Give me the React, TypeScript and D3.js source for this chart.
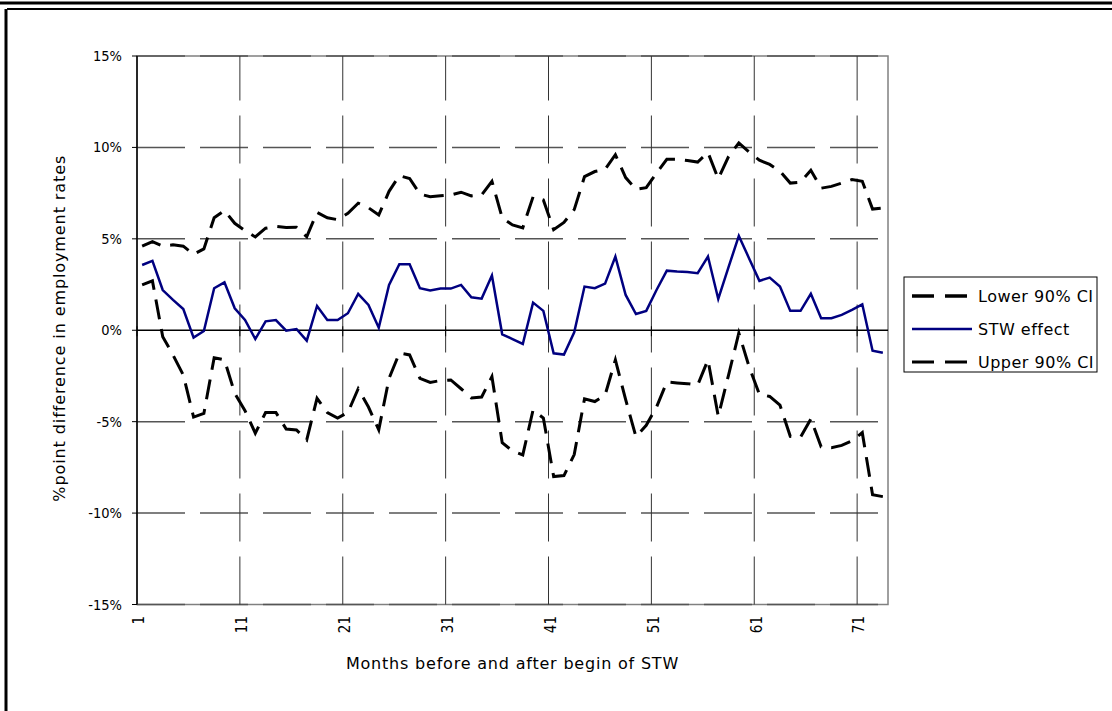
import React from "react";
import * as d3 from "d3";

// months 1..73 (categories)
const months = d3.range(1, 74);

const stwEffect = [
  3.57, 3.79, 2.2, 1.66, 1.16, -0.4, -0.04, 2.3, 2.62, 1.2,
  0.56, -0.48, 0.49, 0.56, -0.02, 0.07, -0.57, 1.33, 0.56, 0.56,
  0.93, 1.99, 1.38, 0.14, 2.48, 3.61, 3.61, 2.3, 2.17, 2.28,
  2.28, 2.48, 1.8, 1.73, 2.99, -0.22, -0.48, -0.75, 1.51, 1.06,
  -1.26, -1.33, -0.11, 2.39, 2.3, 2.55, 4.03, 1.93, 0.89, 1.06,
  2.2, 3.26, 3.21, 3.19, 3.12, 4.03, 1.71, 3.45, 5.16, 3.93,
  2.7, 2.88, 2.39, 1.06, 1.06, 1.99, 0.66, 0.66, 0.84, 1.11,
  1.42, -1.12, -1.23,
];

const lowerCI = [
  2.48, 2.7, -0.35, -1.35, -2.45, -4.75, -4.55, -1.5, -1.62, -3.45,
  -4.4, -5.63, -4.5, -4.5, -5.4, -5.45, -6.0, -3.72, -4.5, -4.8,
  -4.5, -3.2, -4.2, -5.45, -2.63, -1.25, -1.35, -2.63, -2.85, -2.75,
  -2.72, -3.2, -3.7, -3.65, -2.54, -6.15, -6.6, -6.82, -4.36, -4.8,
  -8.0, -7.95, -6.8, -3.75, -3.9, -3.54, -1.62, -3.8, -5.82, -5.2,
  -4.2, -2.83, -2.88, -2.92, -3.0, -1.62, -4.7, -2.45, -0.15, -2.0,
  -3.5, -3.62, -4.1, -5.8, -5.85, -4.85, -6.37, -6.42, -6.3, -6.05,
  -5.6, -9.0, -9.1,
];

const upperCI = [
  4.6, 4.85, 4.6, 4.67, 4.6, 4.15, 4.45, 6.15, 6.55, 5.85,
  5.45, 5.1, 5.58, 5.68, 5.62, 5.63, 5.12, 6.45, 6.15, 6.05,
  6.4, 6.95, 6.7, 6.3, 7.6, 8.45, 8.3, 7.45, 7.3, 7.35,
  7.4, 7.55, 7.35, 7.4, 8.15, 6.15, 5.76, 5.6, 7.3, 7.13,
  5.5, 5.9, 6.6, 8.4, 8.68, 8.8, 9.6, 8.35, 7.71, 7.8,
  8.6, 9.35, 9.35, 9.28, 9.2, 9.72, 8.28, 9.5, 10.25, 9.75,
  9.3, 9.07, 8.7, 8.05, 8.1, 8.75, 7.77, 7.87, 8.05, 8.24,
  8.15, 6.63, 6.68,
];

const yTicks = [-15, -10, -5, 0, 5, 10, 15];
const xTickEvery = 10;

const legendItems = [
  { label: "Lower 90% CI", color: "#000", width: 3.5, dash: "22,11" },
  { label: "STW effect", color: "#000080", width: 2.5, dash: null },
  { label: "Upper 90% CI", color: "#000", width: 2.8, dash: "22,11" },
];

const FONT = "DejaVu Sans, Verdana, sans-serif";
const TICK_FONT = "DejaVu Sans Condensed, DejaVu Sans, sans-serif";

export default function App() {
  const W = 1112,
    H = 711;
  const left = 137,
    right = 888,
    top = 56,
    bottom = 604.5;

  const x = d3.scaleBand<number>().domain(months).range([left, right]);
  const xc = (m: number) => (x(m) as number) + x.bandwidth() / 2;
  const y = d3.scaleLinear().domain([-15, 15]).range([bottom, top]);

  const line = d3
    .line<number>()
    .x((_, i) => xc(months[i]))
    .y((d) => y(d));

  const tickMonths = months.filter((_, i) => i % xTickEvery === 0);

  return (
    <svg
      width={W}
      height={H}
      style={{ position: "absolute", left: 0, top: 0, background: "#fff" }}
      fontFamily={FONT}
    >
      {/* outer frame */}
      <line x1={0} x2={W} y1={3} y2={3} stroke="#000" strokeWidth={3} />
      <line x1={7} x2={W} y1={9} y2={9} stroke="#000" strokeWidth={2} />
      <line x1={6} x2={6} y1={9} y2={H} stroke="#000" strokeWidth={3} />

      {/* plot area border */}
      <rect
        x={left}
        y={top}
        width={right - left}
        height={bottom - top}
        fill="none"
        stroke="#808080"
        strokeWidth={1.5}
      />

      {/* horizontal gridlines */}
      {yTicks
        .filter((t) => t !== 0)
        .map((t) => (
          <line
            key={"h" + t}
            x1={left}
            x2={right}
            y1={y(t)}
            y2={y(t)}
            stroke="#555"
            strokeWidth={1.5}
            strokeDasharray="48,15"
          />
        ))}

      {/* vertical gridlines */}
      {tickMonths.slice(1).map((m) => (
        <line
          key={"v" + m}
          x1={x(m)}
          x2={x(m)}
          y1={bottom}
          y2={top}
          stroke="#333"
          strokeWidth={1}
          strokeDasharray="48,15"
        />
      ))}

      {/* zero axis */}
      <line x1={left} x2={right} y1={y(0)} y2={y(0)} stroke="#000" strokeWidth={1.5} />
      {tickMonths.map((m) => (
        <line key={"t" + m} x1={x(m)} x2={x(m)} y1={y(0) - 4} y2={y(0) + 6} stroke="#000" strokeWidth={1} />
      ))}

      {/* y axis */}
      <line x1={left} x2={left} y1={top} y2={bottom} stroke="#000" strokeWidth={1.5} />
      {yTicks.map((t) => (
        <g key={"y" + t}>
          <line x1={left - 5} x2={left} y1={y(t)} y2={y(t)} stroke="#000" strokeWidth={1} />
          <text
            x={left - 15}
            y={y(t)}
            dy="0.35em"
            textAnchor="end"
            fontSize={14.5}
            fontFamily={TICK_FONT}
          >
            {t + "%"}
          </text>
        </g>
      ))}

      {/* x tick labels */}
      {tickMonths.map((m) => (
        <text
          key={"xl" + m}
          transform={`translate(${(x(m) as number) + 2},616) rotate(-90)`}
          textAnchor="end"
          dy="0.35em"
          fontSize={15}
          fontFamily={TICK_FONT}
        >
          {m}
        </text>
      ))}

      {/* axis titles */}
      <text
        x={(left + right) / 2}
        y={669}
        textAnchor="middle"
        fontSize={16}
        letterSpacing={0.8}
      >
        Months before and after begin of STW
      </text>
      <text
        transform={`translate(65,${(top + bottom) / 2 - 2}) rotate(-90)`}
        textAnchor="middle"
        fontSize={16}
        letterSpacing={0.9}
      >
        %point difference in employment rates
      </text>

      {/* series */}
      <path d={line(upperCI) || ""} fill="none" stroke="#000" strokeWidth={3} strokeDasharray="20,10" />
      <path d={line(lowerCI) || ""} fill="none" stroke="#000" strokeWidth={3} strokeDasharray="20,10" />
      <path d={line(stwEffect) || ""} fill="none" stroke="#000080" strokeWidth={2.5} />

      {/* legend */}
      <rect x={904} y={277} width={193} height={95} fill="#fff" stroke="#000" strokeWidth={1} />
      {legendItems.map((d, i) => {
        const ly = 296 + i * 33;
        return (
          <g key={d.label}>
            <line
              x1={912}
              x2={972}
              y1={ly}
              y2={ly}
              stroke={d.color}
              strokeWidth={d.width}
              strokeDasharray={d.dash || undefined}
            />
            <text x={978} y={ly} dy="0.35em" fontSize={16} letterSpacing={0.5}>
              {d.label}
            </text>
          </g>
        );
      })}
    </svg>
  );
}
